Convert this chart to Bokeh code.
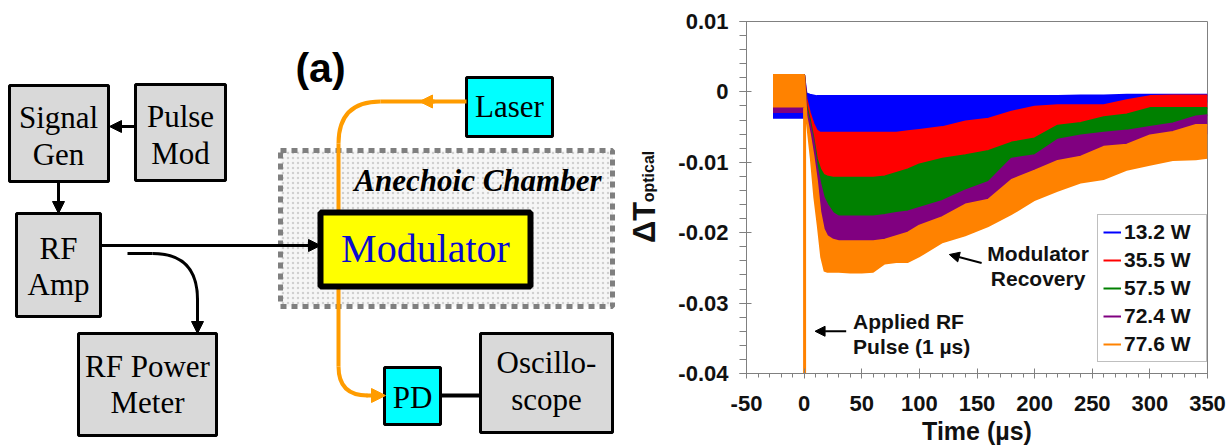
from math import pi
from bokeh.plotting import figure
from bokeh.layouts import row
from bokeh.models import (Range1d, FixedTicker, Legend, LegendItem, Label, Arrow,
                          NormalHead, TeeHead)
from bokeh.core.properties import value
from bokeh.embed import file_html
from bokeh.resources import INLINE

# ---------------------------------------------------------------- data (chart b)
TIME_US = [-27, 0, 2, 5, 8, 11, 14, 17, 20, 25, 30, 40, 50, 60, 70, 80, 90, 100,
           120, 140, 160, 180, 200, 220, 240, 260, 280, 300, 320, 340, 350]

SERIES = ["13.2 W", "35.5 W", "57.5 W", "72.4 W", "77.6 W"]
COLORS = ["#0000FF", "#FF0000", "#008000", "#800080", "#FF8200"]

W132_HI = [0.0024, 0.0024, -0.0002, -0.0004, -0.0005, -0.0006, -0.0006, -0.0006, -0.0006, -0.0006,
           -0.0006, -0.0006, -0.0006, -0.0006, -0.0006, -0.0006, -0.0006, -0.0006, -0.0006, -0.0006,
           -0.0006, -0.0006, -0.0006, -0.0006, -0.0005, -0.0005, -0.0004, -0.0004, -0.0004, -0.0004, -0.0004]
W132_LO = [-0.0038, -0.0038, -0.0035, -0.0045, -0.005, -0.0055, -0.006, -0.006, -0.006, -0.006,
           -0.006, -0.006, -0.006, -0.006, -0.006, -0.006, -0.006, -0.0058, -0.0052, -0.0045,
           -0.004, -0.0035, -0.003, -0.0025, -0.0022, -0.002, -0.0018, -0.0015, -0.0015, -0.0015, -0.0015]

W355_HI = [0.0024, 0.0024, -0.001, -0.003, -0.0045, -0.0055, -0.0058, -0.0058, -0.0058, -0.0058,
           -0.0058, -0.0058, -0.0058, -0.0058, -0.0058, -0.0058, -0.0056, -0.0054, -0.005, -0.0042,
           -0.0038, -0.0028, -0.0021, -0.0019, -0.0019, -0.0019, -0.0012, -0.0006, -0.0005, -0.0005, -0.0005]
W355_LO = [-0.0022, -0.0022, -0.002, -0.004, -0.0065, -0.0095, -0.011, -0.0118, -0.012, -0.0122,
           -0.0122, -0.0122, -0.0122, -0.0122, -0.012, -0.0115, -0.011, -0.0103, -0.0095, -0.009,
           -0.0084, -0.0072, -0.0066, -0.0048, -0.0044, -0.0036, -0.0032, -0.0023, -0.0023, -0.0023, -0.0023]

W575_HI = [0.0024, 0.0024, -0.002, -0.004, -0.0065, -0.0095, -0.011, -0.0118, -0.012, -0.0122,
           -0.0122, -0.0122, -0.0122, -0.0122, -0.012, -0.0115, -0.011, -0.0103, -0.0095, -0.009,
           -0.0084, -0.0072, -0.0066, -0.0048, -0.0044, -0.0036, -0.0032, -0.0023, -0.0023, -0.0023, -0.0023]
W575_LO = [-0.0022, -0.0022, -0.003, -0.006, -0.009, -0.0125, -0.015, -0.0165, -0.017, -0.0176,
           -0.0177, -0.0177, -0.0177, -0.0177, -0.0175, -0.0172, -0.017, -0.0165, -0.0155, -0.014,
           -0.0128, -0.0095, -0.009, -0.0068, -0.0062, -0.0058, -0.0055, -0.005, -0.0045, -0.0035, -0.0033]

W724_HI = [0.0024, 0.0024, -0.0025, -0.0045, -0.007, -0.0105, -0.013, -0.015, -0.016, -0.0172,
           -0.0177, -0.0177, -0.0177, -0.0177, -0.0175, -0.0172, -0.017, -0.0165, -0.0155, -0.014,
           -0.0128, -0.0095, -0.009, -0.0068, -0.0062, -0.0058, -0.0055, -0.005, -0.0045, -0.0035, -0.0033]
W724_LO = [-0.003, -0.003, -0.004, -0.0065, -0.0105, -0.0145, -0.018, -0.0205, -0.0212, -0.0218,
           -0.022, -0.022, -0.022, -0.022, -0.0215, -0.021, -0.0205, -0.02, -0.0185, -0.017,
           -0.016, -0.0135, -0.0125, -0.0106, -0.0106, -0.009, -0.0085, -0.0075, -0.0065, -0.006, -0.006]

W776_HI = [0.0024, 0.0024, -0.0035, -0.006, -0.009, -0.0125, -0.017, -0.0195, -0.0205, -0.021,
           -0.0212, -0.0212, -0.0212, -0.0212, -0.021, -0.0205, -0.02, -0.019, -0.0178, -0.016,
           -0.0153, -0.0125, -0.0112, -0.0098, -0.0092, -0.0078, -0.0075, -0.0062, -0.0057, -0.0047, -0.0047]
W776_LO = [-0.0022, -0.0022, -0.005, -0.0095, -0.015, -0.019, -0.0235, -0.0255, -0.0257, -0.0257,
           -0.0257, -0.0258, -0.0258, -0.0257, -0.0245, -0.0243, -0.0243, -0.0235, -0.0215, -0.0205,
           -0.0192, -0.0175, -0.0155, -0.0142, -0.013, -0.0125, -0.0112, -0.0105, -0.0098, -0.0097, -0.0095]

PULSE_T = [0.4]
PULSE_TOP = [-0.0022]
PULSE_BOTTOM = [-0.04]

XTICKS = [-50, 0, 50, 100, 150, 200, 250, 300, 350]
XLABELS = ["-50", "0", "50", "100", "150", "200", "250", "300", "350"]
YTICKS = [-0.04, -0.03, -0.02, -0.01, 0, 0.01]
YLABELS = ["-0.04", "-0.03", "-0.02", "-0.01", "0", "0.01"]

# ---------------------------------------------------------------- diagram texts (panel a)
BOX_LABELS = ["Signal", "Gen", "Pulse", "Mod", "RF", "Amp", "RF Power", "Meter",
              "Laser", "PD", "Oscillo-", "scope"]

SANS = "Liberation Sans"
SERIF = "Liberation Serif"

# ================================================================= panel (a)  (1 unit = 1 px)
d = figure(width=670, height=447, x_range=Range1d(0, 670), y_range=Range1d(447, 0),
           x_axis_type=None, y_axis_type=None, output_backend="svg",
           toolbar_location=None, min_border=0, outline_line_color=None)
d.frame_align = False
d.grid.visible = False

# anechoic chamber
d.quad(left=[280], right=[612], top=[150], bottom=[306], fill_color="#f6f6f6",
       hatch_pattern=".", hatch_color="#d0d0d0", hatch_scale=5, hatch_weight=1,
       line_color="#7f7f7f", line_width=5, line_dash="6 5")
d.text(x=[601], y=[180], text=["Anechoic Chamber"], text_font=value(SERIF),
       text_font_size=value("31px"), text_font_style="bold italic",
       text_align="right", text_baseline="middle", text_color="black")

# gray boxes: Signal Gen, Pulse Mod, RF Amp, RF Power Meter, Oscilloscope
d.quad(left=[9, 135, 16, 78, 480], right=[108, 225, 100, 216, 612],
       top=[85, 84, 213, 333, 333], bottom=[181, 180, 316, 435, 432],
       fill_color="#d9d9d9", line_color="black", line_width=3)
# cyan boxes: Laser, PD
d.quad(left=[466, 384], right=[552, 440], top=[77, 367], bottom=[136, 424],
       fill_color="#00FFFF", line_color="black", line_width=3)

OR = "#FF9C00"
# optical fibre: laser -> modulator
d.line(x=[466, 380], y=[101, 101], line_color=OR, line_width=4)
d.quadratic(x0=[380], y0=[101], x1=[338], y1=[143], cx=[338], cy=[101], line_color=OR, line_width=4)
d.line(x=[338, 338], y=[143, 216], line_color=OR, line_width=4)
d.add_layout(Arrow(end=NormalHead(size=13, fill_color=OR, line_color=OR), x_start=434, y_start=101,
                   x_end=419, y_end=101, line_color=OR, line_width=4))
# modulator -> PD
d.line(x=[338, 338], y=[282, 366], line_color=OR, line_width=4)
d.quadratic(x0=[338], y0=[366], x1=[367], y1=[395], cx=[338], cy=[395], line_color=OR, line_width=4)
d.add_layout(Arrow(end=NormalHead(size=14, fill_color=OR, line_color=OR), x_start=366, y_start=395,
                   x_end=385, y_end=395, line_color=OR, line_width=4))

# modulator
d.quad(left=[320], right=[530], top=[212], bottom=[286], fill_color="#FFFF00",
       line_color="black", line_width=6)
d.add_layout(Label(x=425, y=248, text="Modulator", text_font=SERIF, text_font_size="40px",
                   text_align="center", text_baseline="middle", text_color="#0B0BCF"))

# PD -> oscilloscope
d.add_layout(Arrow(end=TeeHead(size=10, line_color="black", line_width=3), x_start=440, y_start=395,
                   x_end=480, y_end=395, line_color="black", line_width=4))

BLK = dict(line_color="black", line_width=3)
HEAD = dict(size=12, fill_color="black", line_color="black")
d.add_layout(Arrow(end=NormalHead(**HEAD), x_start=135, y_start=126, x_end=109, y_end=126, **BLK))
d.add_layout(Arrow(end=NormalHead(**HEAD), x_start=58, y_start=181, x_end=58, y_end=213, **BLK))
d.add_layout(Arrow(end=NormalHead(**HEAD), x_start=100, y_start=245, x_end=320, y_end=245, **BLK))
d.line(x=[127, 152], y=[253, 253], **BLK)
d.quadratic(x0=[152], y0=[253], x1=[197], y1=[299], cx=[197], cy=[253], **BLK)
d.add_layout(Arrow(end=NormalHead(**HEAD), x_start=197, y_start=298, x_end=197, y_end=333, **BLK))

# box texts
d.text(x=[58, 58, 180, 180, 58, 58, 147, 147, 509, 412, 546, 546],
       y=[117, 154, 116, 153, 248, 284, 366, 402, 106, 397, 362, 399],
       text=BOX_LABELS, text_font=value(SERIF), text_font_size=value("31px"),
       text_align="center", text_baseline="middle", text_color="black")

d.text(x=[320], y=[67], text=["(a)"], text_font=value(SANS), text_font_size=value("41px"),
       text_font_style="bold", text_align="center", text_baseline="middle", text_color="black")

# y-axis title of panel (b):  ΔT_optical  (sits just left of the chart's tick labels)
d.text(x=[644], y=[222], text=["ΔT"], angle=pi / 2, text_font=value(SANS),
       text_font_size=value("31px"), text_font_style="bold", text_align="center",
       text_baseline="middle", text_color="#111111")
d.text(x=[648], y=[176], text=["optical"], angle=pi / 2, text_font=value(SANS),
       text_font_size=value("16px"), text_font_style="bold", text_align="center",
       text_baseline="middle", text_color="#111111")

# ================================================================= panel (b)
p = figure(width=560, height=447, x_range=Range1d(-50, 350), y_range=Range1d(-0.04, 0.01),
           output_backend="svg", toolbar_location=None,
           min_border_left=76, min_border_right=23, min_border_top=21, min_border_bottom=73)
p.frame_align = False
p.grid.visible = False
p.outline_line_color = "#808080"
p.outline_line_width = 1

HI = [W132_HI, W355_HI, W575_HI, W724_HI, W776_HI]
LO = [W132_LO, W355_LO, W575_LO, W724_LO, W776_LO]
items = []
for name, col, hi, lo in zip(SERIES, COLORS, HI, LO):
    p.varea(x=TIME_US, y1=lo, y2=hi, fill_color=col)
    r = p.line(x=TIME_US, y=hi, line_color=col, line_width=2)
    items.append(LegendItem(label=name, renderers=[r]))

p.segment(x0=PULSE_T, y0=PULSE_TOP, x1=PULSE_T, y1=PULSE_BOTTOM, line_color=COLORS[4], line_width=3)

legend = Legend(items=items, location=(351, 11), orientation="vertical",
                border_line_color="#808080", border_line_width=1, background_fill_color="white",
                label_text_font=SANS, label_text_font_size="21px", label_text_font_style="bold",
                label_text_color="#111111", glyph_width=18, glyph_height=22, label_height=22,
                label_width=77, label_standoff=3, padding=5, spacing=4, margin=0)
p.add_layout(legend, "center")

for ax in (p.xaxis[0], p.yaxis[0]):
    ax.axis_line_color = "#808080"
    ax.major_tick_line_color = "#808080"
    ax.minor_tick_line_color = "#808080"
    ax.major_label_text_font = SANS
    ax.major_label_text_font_size = "22px"
    ax.major_label_text_font_style = "bold"
    ax.major_label_text_color = "#111111"

p.xaxis.ticker = FixedTicker(ticks=XTICKS, minor_ticks=list(range(-50, 351, 10)))
p.xaxis.major_label_overrides = dict(zip(XTICKS, XLABELS))
p.xaxis.major_tick_in = 5
p.xaxis.major_tick_out = 5
p.xaxis.minor_tick_in = 0
p.xaxis.minor_tick_out = 4
p.xaxis.major_label_standoff = 17
p.xaxis.axis_label = "Time (µs)"
p.xaxis.axis_label_text_font = SANS
p.xaxis.axis_label_text_font_size = "25px"
p.xaxis.axis_label_text_font_style = "bold"
p.xaxis.axis_label_text_color = "#111111"
p.xaxis.axis_label_standoff = 3

p.yaxis.ticker = FixedTicker(ticks=YTICKS, minor_ticks=[round(-0.04 + 0.002 * i, 3) for i in range(26)])
p.yaxis.major_label_overrides = dict(zip(YTICKS, YLABELS))
p.yaxis.major_tick_in = 5
p.yaxis.major_tick_out = 7
p.yaxis.minor_tick_in = 0
p.yaxis.minor_tick_out = 7
p.yaxis.major_label_standoff = 11

# annotations
NOTE = dict(text_font=SANS, text_font_size="21px", text_font_style="bold", text_color="#111111",
            text_baseline="middle")
p.add_layout(Label(x=203, y=-0.023, text="Modulator", text_align="center", **NOTE))
p.add_layout(Label(x=203, y=-0.0265, text="Recovery", text_align="center", **NOTE))
p.add_layout(Arrow(end=NormalHead(size=10, fill_color="black", line_color="black"),
                   x_start=154, y_start=-0.0243, x_end=126, y_end=-0.0231,
                   line_color="black", line_width=2))
p.add_layout(Label(x=42.5, y=-0.0326, text="Applied RF", text_align="left", **NOTE))
p.add_layout(Label(x=42.5, y=-0.0362, text="Pulse (1 µs)", text_align="left", **NOTE))
p.add_layout(Arrow(end=NormalHead(size=10, fill_color="black", line_color="black"),
                   x_start=36.5, y_start=-0.034, x_end=9.5, y_end=-0.034,
                   line_color="black", line_width=2))

layout = row(d, p)
open("out.html", "w").write(file_html(layout, INLINE))
